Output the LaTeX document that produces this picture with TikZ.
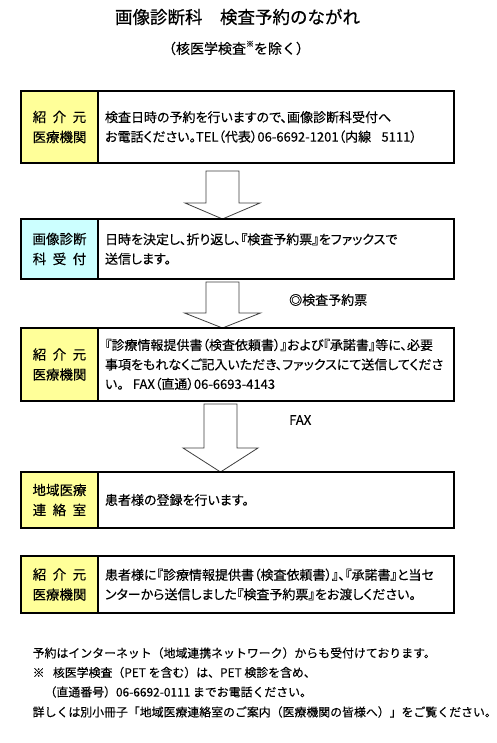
\documentclass[tikz,border=0pt]{standalone}
\usepackage{fontspec}
\setmainfont{Noto Sans CJK JP}
\newfontfamily\jpp{Noto Sans CJK JP}[RawFeature={+palt}, FakeBold=0.25]
\newfontfamily\jpn{Noto Sans CJK JP}[FakeBold=0.25]
\newfontfamily\jpt{Noto Sans CJK JP}[FakeBold=0.6]
\usetikzlibrary{calc}
\definecolor{lemon}{HTML}{FFFF99}
\definecolor{pale}{HTML}{CCFFFF}
\definecolor{arrowgray}{HTML}{404040}
\tikzset{
 lab/.style={draw=black, line width=2.4pt, minimum width=77pt, align=center, anchor=north west, inner sep=0pt, outer sep=0pt, font=\jpn\fontsize{13.5pt}{20pt}\selectfont},
 txt/.style={draw=black, line width=2.4pt, minimum width=356pt, text width=342pt, inner xsep=7pt, inner ysep=0pt, align=left, anchor=north west, outer sep=0pt, font=\jpp\fontsize{13pt}{19.5pt}\selectfont},
 blk/.style={draw=arrowgray, fill=white, line width=0.8pt, line join=miter},
 note/.style={anchor=west, inner sep=0pt, font=\jpn\fontsize{13pt}{15pt}\selectfont},
 foot/.style={anchor=west, inner sep=0pt, font=\jpn\fontsize{11.9pt}{14pt}\selectfont},
}
% block arrow: centre x, top y, shoulder y, tip y, half stem, half head
\newcommand{\blkarrow}[7]{%
  \coordinate (#7) at (#1,#4);
  \draw[blk] (#1-#5,#2) -- (#1-#5,#3) -- (#1-#6,#3) -- (#7) -- (#1+#6,#3) -- (#1+#5,#3) -- (#1+#5,#2) -- cycle;}
\begin{document}
\begin{tikzpicture}[x=1pt,y=1pt]
\fill[white] (0,0) rectangle (497,743);
\useasboundingbox (0,0) rectangle (497,743);

\node[inner sep=0pt, font=\jpt\fontsize{17.5pt}{20pt}\selectfont] (title) at (237.5,726) {画像診断科　検査予約のながれ};
\node[inner sep=0pt, font=\jpn\fontsize{14pt}{16pt}\selectfont] (sub) at (236,695) {（核医学検査\raisebox{0.5em}{\fontsize{8pt}{8pt}\selectfont ※}を除く）};

% arrows
\blkarrow{222.5}{572}{540}{524}{16.5}{37.5}{tipA}
\blkarrow{222.5}{461}{430}{415}{16.5}{38}{tipB}
\blkarrow{220.5}{339}{295}{271}{16.5}{37.5}{tipC}

% row 1
\node[lab, fill=lemon, minimum height=72pt] (l1) at (21,652) {紹\hspace{0.48em}介\hspace{0.48em}元\\医療機関};
\node[txt, fill=white, minimum height=72pt] (t1) at (98,652) {検査日時の予約を行いますので、画像診断科受付へ\\お電話ください。TEL（代表）06-6692-1201（内線\hspace{0.8em}5111）};
% row 2
\node[lab, fill=pale, minimum height=60pt] (l2) at (21,524) {画像診断\\科\hspace{0.48em}受\hspace{0.48em}付};
\node[txt, fill=white, minimum height=60pt] (t2) at (98,524) {日時を決定し、折り返し、『検査予約票』をファックスで\\送信します。};
% row 3
\node[lab, fill=lemon, minimum height=73pt] (l3) at (21,415) {紹\hspace{0.48em}介\hspace{0.48em}元\\医療機関};
\node[txt, fill=white, minimum height=73pt] (t3) at (98,415) {『診療情報提供書（検査依頼書）』および『承諾書』等に、必要\\事項をもれなくご記入いただき、ファックスにて送信してくださ\\い。\hspace{0.7em}FAX（直通）06-6693-4143};
% row 4
\node[lab, fill=lemon, minimum height=56pt] (l4) at (21,271) {地域医療\\連\hspace{0.48em}絡\hspace{0.48em}室};
\node[txt, fill=white, minimum height=56pt] (t4) at (98,271) {患者様の登録を行います。};
% row 5
\node[lab, fill=lemon, minimum height=57pt] (l5) at (21,187) {紹\hspace{0.48em}介\hspace{0.48em}元\\医療機関};
\node[txt, fill=white, minimum height=57pt] (t5) at (98,187) {患者様に『診療情報提供書（検査依頼書）』、『承諾書』と当セ\\ンターから送信しました『検査予約票』をお渡しください。};

% arrow labels
\node[note] (n1) at (289,443) {◎検査予約票};
\node[note] (n2) at (289,323) {FAX};

% footer
\node[foot] (f1) at (32.5,90) {予約はインターネット（地域連携ネットワーク）からも受付けております。};
\node[foot] (f2) at (32.5,70.5) {※\hspace{0.7em}核医学検査（PET を含む）は、PET 検診を含め、};
\node[foot] (f3) at (32.5,51) {　（直通番号）06-6692-0111 までお電話ください。};
\node[foot] (f4) at (32.5,31) {詳しくは別小冊子「地域医療連絡室のご案内（医療機関の皆様へ）」をご覧ください。};
\end{tikzpicture}
\end{document}
